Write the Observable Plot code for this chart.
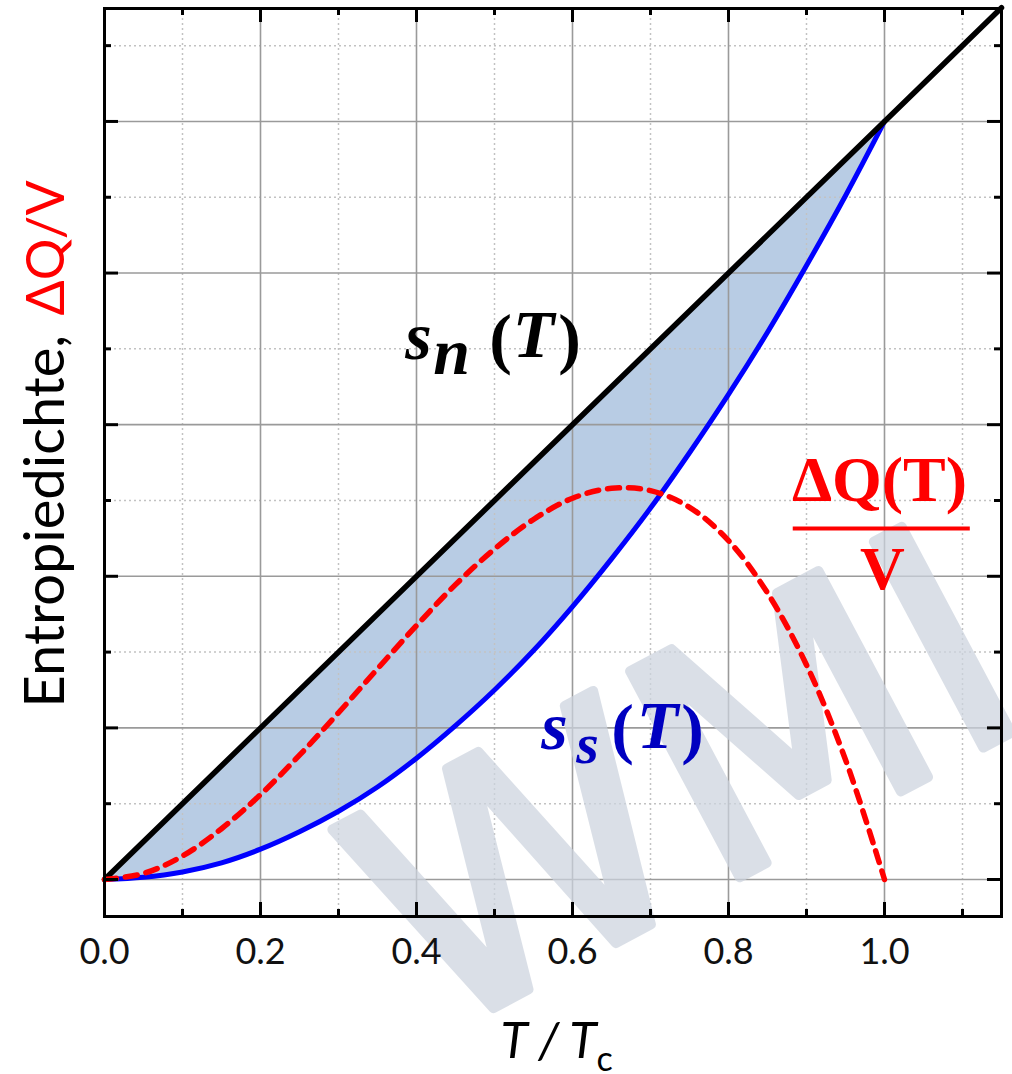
<!DOCTYPE html>
<html>
<head>
<meta charset="utf-8">
<script src="https://cdn.jsdelivr.net/npm/d3@7"></script>
<script src="https://cdn.jsdelivr.net/npm/@observablehq/plot@0.6"></script>
<style>
  html, body { margin: 0; padding: 0; background: #fff; }
</style>
</head>
<body>
<div id="chart"></div>
<script>
// ---- data ----
const T  = [0, 0.05, 0.1, 0.15, 0.2, 0.25, 0.3, 0.35, 0.4, 0.45, 0.5, 0.55, 0.6, 0.65, 0.7, 0.75, 0.8, 0.85, 0.9, 0.95, 1.0];
const sn = [0, 0.05, 0.1, 0.15, 0.2, 0.25, 0.3, 0.35, 0.4, 0.45, 0.5, 0.55, 0.6, 0.65, 0.7, 0.75, 0.8, 0.85, 0.9, 0.95, 1.0];
const ss = [0, 0.003, 0.01, 0.022, 0.04, 0.063, 0.09, 0.122, 0.16, 0.203, 0.25, 0.302, 0.36, 0.423, 0.49, 0.563, 0.64, 0.722, 0.81, 0.902, 1.0];
const dq = [0, 0.008, 0.031, 0.067, 0.112, 0.164, 0.22, 0.278, 0.335, 0.389, 0.436, 0.475, 0.503, 0.516, 0.513, 0.491, 0.447, 0.378, 0.283, 0.158, 0];
// normal-state line continues past Tc
const tNormal  = [0, 0.5, 1.0, 1.15];
const snNormal = [0, 0.5, 1.0, 1.15];

const xTickLabels = [0, 0.2, 0.4, 0.6, 0.8, 1.0];
const xMajor = [0.2, 0.4, 0.6, 0.8, 1.0];
const xMinor = [0.1, 0.3, 0.5, 0.7, 0.9, 1.1];
const yMajor = [0, 0.2, 0.4, 0.6, 0.8, 1.0];
const yMinor = [0.1, 0.3, 0.5, 0.7, 0.9, 1.1];

const rows = T.map((t, i) => ({T: t, sn: sn[i], ss: ss[i], dq: dq[i]}));
const nRows = tNormal.map((t, i) => ({T: t, s: snNormal[i]}));

// ---- layout ----
const W = 1012, H = 1074;
const mL = 104, mR = 11, mT = 8, mB = 158;
const fw = W - mL - mR, fh = H - mT - mB;
const at = (px, py) => ({frameAnchor: "top-left", dx: px - mL, dy: py - mT});

const serif = "Liberation Serif, DejaVu Serif, serif";
const sans = "Lato, Open Sans, sans-serif";
const red = "#ff0000", blueText = "#0000c0";

// piece of a math-style label
const piece = (txt, px, py, size, color, italic = true, bold = true) =>
  Plot.text([txt], {...at(px, py), textAnchor: "middle", lineAnchor: "bottom", fontFamily: serif,
    fontStyle: italic ? "italic" : "normal", fontWeight: bold ? "bold" : "normal", fontSize: size, fill: color});

const chart = Plot.plot({
  width: W, height: H,
  marginLeft: mL, marginRight: mR, marginTop: mT, marginBottom: mB,
  style: {fontFamily: sans, background: "#fff", overflow: "hidden"},
  x: {domain: [0, 1.15]},
  y: {domain: [-0.0488, 1.149], axis: null},
  marks: [
    Plot.areaY(rows, {x: "T", y1: "ss", y2: "sn", fill: "#b8cce4", curve: "catmull-rom"}),
    Plot.ruleX(xMinor, {stroke: "#c2c2c2", strokeWidth: 1.5, strokeDasharray: "2,3"}),
    Plot.ruleY(yMinor, {stroke: "#c2c2c2", strokeWidth: 1.5, strokeDasharray: "2,3"}),
    Plot.ruleX(xMajor, {stroke: "#9a9a9a", strokeWidth: 1.6}),
    Plot.ruleY(yMajor, {stroke: "#9a9a9a", strokeWidth: 1.6}),
    // watermark
    Plot.text(["WMI"], {...at(432, 1040), rotate: -28, textAnchor: "start", lineAnchor: "bottom",
      fontSize: 320, fontFamily: "DejaVu Sans", fontWeight: "normal",
      fill: "#cdd4df", stroke: "#cdd4df", strokeWidth: 10, strokeLinejoin: "round", opacity: 0.72}),
    // curves
    Plot.line(rows, {x: "T", y: "ss", stroke: "#0000ff", strokeWidth: 5, curve: "catmull-rom"}),
    Plot.line(nRows, {x: "T", y: "s", stroke: "#000", strokeWidth: 5.5}),
    Plot.line(rows, {x: "T", y: "dq", stroke: red, strokeWidth: 5.5, strokeDasharray: "12,9", curve: "catmull-rom"}),
    // s_n(T)
    piece("s", 418, 358, 68, "#000"),
    piece("n", 451, 373, 66, "#000"),
    piece("(", 500, 360, 68, "#000", false),
    piece("T", 533, 356, 68, "#000"),
    piece(")", 569, 360, 68, "#000", false),
    // s_s(T)
    piece("s", 554, 748, 68, blueText),
    piece("s", 587, 762, 58, blueText),
    piece("(", 622, 750, 68, blueText, false),
    piece("T", 657, 747, 68, blueText),
    piece(")", 692, 750, 68, blueText, false),
    // ΔQ(T)/V
    piece("ΔQ(T)", 879, 500, 64, red, false),
    Plot.ruleY([0.463], {x1: 0.883, x2: 1.11, stroke: red, strokeWidth: 4}),
    piece("V", 882, 588, 62, red, false),
    // axis titles
    Plot.text(["Entropiedichte,"], {...at(63, 707), rotate: -90, textAnchor: "start", lineAnchor: "bottom", fontFamily: sans, fontSize: 56, fill: "#000"}),
    Plot.text(["ΔQ/V"], {...at(63, 315), rotate: -90, textAnchor: "start", lineAnchor: "bottom", fontFamily: sans, fontSize: 52, fill: red}),
    Plot.text(["T / T"], {...at(500, 1057), textAnchor: "start", lineAnchor: "bottom", fontFamily: sans, fontStyle: "italic", fontSize: 50, fill: "#000"}),
    Plot.text(["c"], {...at(596, 1070), textAnchor: "start", lineAnchor: "bottom", fontFamily: sans, fontSize: 34, fill: "#000"}),
    // frame and inward ticks
    Plot.frame({stroke: "#000", strokeWidth: 3}),
    Plot.tickX(xMajor, {x: d => d, insetTop: fh - 14, stroke: "#000", strokeWidth: 3}),
    Plot.tickX(xMinor, {x: d => d, insetTop: fh - 7, stroke: "#000", strokeWidth: 3}),
    Plot.tickX(xMajor, {x: d => d, insetBottom: fh - 14, stroke: "#000", strokeWidth: 3}),
    Plot.tickX(xMinor, {x: d => d, insetBottom: fh - 7, stroke: "#000", strokeWidth: 3}),
    Plot.tickY(yMajor, {y: d => d, insetRight: fw - 14, stroke: "#000", strokeWidth: 3}),
    Plot.tickY(yMinor, {y: d => d, insetRight: fw - 7, stroke: "#000", strokeWidth: 3}),
    Plot.tickY(yMajor, {y: d => d, insetLeft: fw - 14, stroke: "#000", strokeWidth: 3}),
    Plot.tickY(yMinor, {y: d => d, insetLeft: fw - 7, stroke: "#000", strokeWidth: 3}),
    Plot.axisX(xTickLabels, {tickSize: 0, tickPadding: 22, tickFormat: d3.format(".1f"), fontSize: 36, fontFamily: sans, fill: "#111", label: null})
  ]
});
document.getElementById("chart").appendChild(chart);
</script>
</body>
</html>
